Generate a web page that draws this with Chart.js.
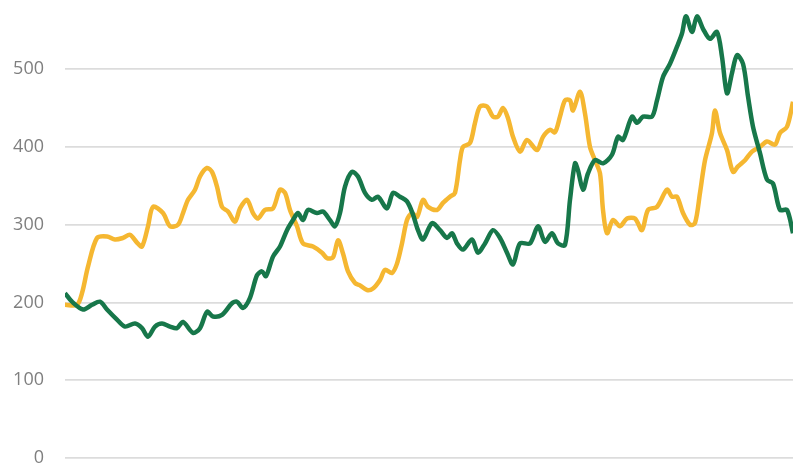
<!DOCTYPE html>
<html>
<head>
<meta charset="utf-8">
<script src="https://cdn.jsdelivr.net/npm/chart.js@4/dist/chart.umd.min.js"></script>
<style>
  html, body { margin: 0; padding: 0; background: #fff; }
  #wrap { width: 810px; height: 470px; }
</style>
</head>
<body>
<div id="wrap"><canvas id="line-chart"></canvas></div>
<script>
// x is a day index (0..364), no labels shown on the axis
const greenDays = [0, 3.5, 9, 13.5, 17.5, 21, 26, 30, 35, 38.5, 41.5, 45, 48.5, 52.5, 56, 59, 64, 67.5, 71, 74,
    78.5, 83.5, 86, 89, 92.5, 96, 98.5, 100.5, 104, 107.5, 111, 114, 116.5, 119, 121.5, 126, 129, 132.5, 135, 137.5,
    140, 143.5, 146.5, 150, 153.5, 156.5, 161, 164, 167.5, 171, 174, 176.5, 179, 183.5, 187.5, 191, 193.5, 196, 199, 203.5,
    206.5, 210, 214, 217.5, 221, 224, 227.5, 232.5, 236.5, 240, 243.5, 246.5, 250, 252.5, 255, 256.5, 259, 261.5, 265, 269,
    273.5, 276.5, 279, 283.5, 286, 289, 293.5, 296, 299, 302.5, 306, 308.5, 310.5, 313.5, 316, 319, 322.5, 326, 328.5, 331,
    333.5, 336, 339, 341.5, 344, 347.5, 351, 354, 357.5, 361, 364];
const greenValues = [212, 201, 191, 197, 201, 191, 178, 169, 173, 167, 156, 169, 173, 169, 167, 175, 161, 167, 188, 182,
    184, 199, 201, 193, 206, 235, 240, 234, 259, 272, 293, 306, 315, 306, 319, 315, 317, 306, 298, 315,
    349, 368, 362, 341, 332, 336, 321, 341, 336, 330, 313, 293, 281, 302, 293, 283, 289, 276, 268, 281,
    264, 276, 293, 283, 264, 249, 276, 276, 298, 278, 289, 276, 274, 332, 379, 370, 345, 366, 383, 379,
    390, 413, 409, 439, 431, 439, 439, 460, 490, 507, 529, 546, 568, 548, 568, 552, 539, 548, 516, 469,
    495, 518, 507, 465, 426, 392, 358, 353, 319, 319, 289];

const yellowDays = [0, 6, 8.5, 11.5, 16, 21, 25, 29, 32.5, 36, 38.5, 41.5, 44, 49, 52.5, 56.5, 59, 61.5, 65, 67.5,
    71, 73.5, 76, 78.5, 81.5, 85, 87.5, 91, 94, 96.5, 100, 104, 107.5, 110, 112.5, 116, 119, 124, 128.5, 131,
    134, 136.5, 139, 141.5, 145, 147.5, 151, 154, 157.5, 160, 163.5, 166, 168.5, 171, 173.5, 176, 179, 181.5, 186, 189,
    192.5, 195, 197.5, 199, 202.5, 205, 207.5, 211, 214, 216.5, 219, 221.5, 224, 227.5, 231, 236, 239, 242.5, 245, 247.5,
    250, 252.5, 254, 257.5, 260, 262.5, 265, 267.5, 269, 271, 274, 277.5, 281, 285, 288.5, 291.5, 296, 301, 303.5, 306,
    309, 312.5, 315, 317.5, 320, 323.5, 325, 327.5, 331, 334, 336.5, 340, 343.5, 347.5, 351, 355, 357.5, 361, 364];
const yellowValues = [197, 197, 212, 246, 283, 285, 281, 283, 287, 277, 272, 298, 323, 315, 298, 300, 315, 332, 345, 362,
    373, 368, 349, 323, 317, 304, 321, 332, 315, 308, 319, 321, 345, 341, 319, 298, 276, 272, 264, 257,
    258, 280, 263, 240, 225, 222, 216, 218, 229, 242, 238, 250, 276, 306, 315, 310, 332, 323, 319, 328,
    336, 341, 383, 400, 405, 431, 452, 452, 439, 439, 450, 437, 413, 394, 409, 396, 413, 422, 419, 439,
    460, 460, 447, 471, 443, 400, 383, 366, 319, 289, 306, 298, 308, 308, 293, 319, 323, 345, 336, 336,
    315, 300, 302, 341, 383, 418, 447, 418, 396, 368, 375, 383, 394, 400, 407, 403, 418, 426, 458];

const yTicks = [0, 100, 200, 300, 400, 500];

function toPoints(days, values) {
    return days.map((d, i) => ({ x: d, y: values[i] }));
}

document.addEventListener('DOMContentLoaded', () => {
    const ctx = document.getElementById('line-chart').getContext('2d');
    new Chart(ctx, {
        type: 'line',
        data: {
            datasets: [
                {
                    label: 'Green',
                    data: toPoints(greenDays, greenValues),
                    borderColor: '#17774a',
                    borderWidth: 4.5,
                    pointRadius: 0,
                    tension: 0.3,
                    fill: false,
                },
                {
                    label: 'Yellow',
                    data: toPoints(yellowDays, yellowValues),
                    borderColor: '#f5b731',
                    borderWidth: 4.5,
                    pointRadius: 0,
                    tension: 0.3,
                    fill: false,
                }
            ]
        },
        options: {
            responsive: true,
            maintainAspectRatio: false,
            animation: false,
            layout: { padding: { left: 0, right: 17, top: 0, bottom: 12 } },
            plugins: {
                legend: { display: false },
                tooltip: { enabled: false }
            },
            scales: {
                x: {
                    type: 'linear',
                    min: 0,
                    max: 364,
                    display: false
                },
                y: {
                    min: 0,
                    max: 589,
                    afterBuildTicks: axis => {
                        axis.ticks = yTicks.map(v => ({ value: v }));
                    },
                    afterFit: axis => {
                        // keep the plot flush with the top; labels have room anyway
                        axis.width = 65;
                        axis.paddingTop = 0;
                        axis.paddingBottom = 0;
                    },
                    border: { display: false },
                    grid: {
                        color: '#dcdcdc',
                        lineWidth: 1.8,
                        drawTicks: false
                    },
                    ticks: {
                        padding: 21,
                        color: '#7f7f7f',
                        font: { family: 'Open Sans', size: 18 }
                    }
                }
            }
        }
    });
});
</script>
</body>
</html>
